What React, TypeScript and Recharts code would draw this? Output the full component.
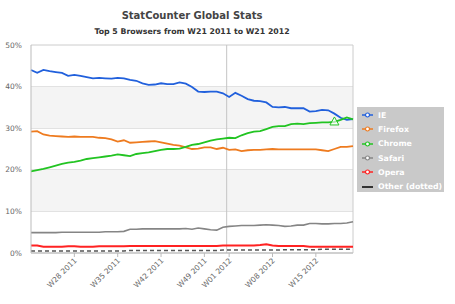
import React from "react";
import {
  LineChart,
  Line,
  XAxis,
  YAxis,
  CartesianGrid,
  ReferenceArea,
  ReferenceLine,
} from "recharts";

const weeks = [
  "W21 2011", "W22 2011", "W23 2011", "W24 2011", "W25 2011", "W26 2011", "W27 2011", "W28 2011",
  "W29 2011", "W30 2011", "W31 2011", "W32 2011", "W33 2011", "W34 2011", "W35 2011", "W36 2011",
  "W37 2011", "W38 2011", "W39 2011", "W40 2011", "W41 2011", "W42 2011", "W43 2011", "W44 2011",
  "W45 2011", "W46 2011", "W47 2011", "W48 2011", "W49 2011", "W50 2011", "W51 2011", "W52 2011",
  "W01 2012", "W02 2012", "W03 2012", "W04 2012", "W05 2012", "W06 2012", "W07 2012", "W08 2012",
  "W09 2012", "W10 2012", "W11 2012", "W12 2012", "W13 2012", "W14 2012", "W15 2012", "W16 2012",
  "W17 2012", "W18 2012", "W19 2012", "W20 2012", "W21 2012",
];

const ie = [
  44.0, 43.3, 44.0, 43.7, 43.5, 43.3, 42.6, 42.8, 42.6, 42.3, 42.0, 42.1, 42.0, 41.9, 42.1, 42.0,
  41.6, 41.4, 40.8, 40.4, 40.5, 40.8, 40.6, 40.6, 41.0, 40.7, 39.9, 38.8, 38.7, 38.8, 38.8, 38.4,
  37.5, 38.5, 37.8, 37.0, 36.6, 36.5, 36.2, 35.1, 35.0, 35.1, 34.8, 34.8, 34.8, 34.0, 34.1, 34.4,
  34.3, 33.5, 32.5, 32.0, 32.2,
];
const firefox = [
  29.2, 29.3, 28.5, 28.2, 28.1, 28.0, 27.9, 28.0, 27.9, 27.9, 27.9, 27.7, 27.6, 27.3, 26.8, 27.1,
  26.5, 26.6, 26.7, 26.8, 26.9, 26.6, 26.3, 26.0, 25.8, 25.4, 25.0, 25.1, 25.4, 25.4, 25.0, 25.3,
  24.8, 24.9, 24.5, 24.7, 24.8, 24.8, 24.9, 25.0, 24.9, 24.9, 24.9, 24.9, 24.9, 24.9, 24.9, 24.7,
  24.5, 25.0, 25.5, 25.5, 25.7,
];
const chrome = [
  19.6, 19.9, 20.2, 20.6, 21.0, 21.4, 21.7, 21.9, 22.2, 22.6, 22.8, 23.0, 23.2, 23.4, 23.7, 23.5,
  23.3, 23.8, 24.0, 24.2, 24.5, 24.8, 25.0, 25.0, 25.1, 25.5, 26.0, 26.2, 26.6, 27.0, 27.3, 27.5,
  27.7, 27.6, 28.3, 28.8, 29.2, 29.3, 29.8, 30.3, 30.5, 30.5, 31.0, 31.1, 31.0, 31.2, 31.3, 31.4,
  31.4, 31.5, 32.0, 32.6, 32.1,
];
const safari = [
  4.9, 4.9, 4.9, 4.9, 4.9, 5.0, 5.0, 5.0, 5.0, 5.0, 5.0, 5.0, 5.1, 5.1, 5.1, 5.2,
  5.7, 5.7, 5.8, 5.8, 5.8, 5.8, 5.8, 5.8, 5.8, 5.9, 5.7, 6.0, 5.8, 5.6, 5.5, 6.2,
  6.4, 6.5, 6.6, 6.6, 6.6, 6.7, 6.8, 6.7, 6.6, 6.4, 6.5, 6.7, 6.7, 7.1, 7.1, 7.0,
  7.0, 7.1, 7.1, 7.2, 7.5,
];
const opera = [
  1.8, 1.8, 1.5, 1.5, 1.5, 1.5, 1.6, 1.6, 1.5, 1.5, 1.5, 1.6, 1.6, 1.6, 1.6, 1.6,
  1.7, 1.7, 1.7, 1.7, 1.7, 1.7, 1.7, 1.7, 1.7, 1.7, 1.7, 1.7, 1.7, 1.7, 1.7, 1.8,
  1.8, 1.8, 1.8, 1.8, 1.8, 1.9, 2.1, 1.8, 1.7, 1.7, 1.7, 1.7, 1.7, 1.5, 1.5, 1.5,
  1.5, 1.5, 1.5, 1.5, 1.5,
];
const other = [
  0.5, 0.5, 0.5, 0.5, 0.5, 0.5, 0.5, 0.5, 0.5, 0.5, 0.5, 0.5, 0.5, 0.5, 0.5, 0.5,
  0.6, 0.6, 0.6, 0.6, 0.6, 0.6, 0.6, 0.6, 0.6, 0.6, 0.6, 0.6, 0.6, 0.6, 0.6, 0.7,
  0.7, 0.7, 0.7, 0.7, 0.7, 0.7, 0.7, 0.7, 0.7, 0.8, 0.8, 0.8, 0.8, 0.8, 0.8, 0.9,
  0.9, 0.9, 0.9, 0.9, 0.9,
];

const tickLabels = ["W28 2011", "W35 2011", "W42 2011", "W49 2011", "W01 2012", "W08 2012", "W15 2012"];
const yTicks = [0, 10, 20, 30, 40, 50];

const series = [
  { key: "ie", name: "IE", color: "#2160dc" },
  { key: "firefox", name: "Firefox", color: "#ee7b1f" },
  { key: "chrome", name: "Chrome", color: "#22c422" },
  { key: "safari", name: "Safari", color: "#858585" },
  { key: "opera", name: "Opera", color: "#ff2222" },
];

const data = weeks.map((week, idx) => ({
  idx,
  week,
  ie: ie[idx],
  firefox: firefox[idx],
  chrome: chrome[idx],
  safari: safari[idx],
  opera: opera[idx],
  other: other[idx],
}));

const font = "'DejaVu Sans', Verdana, sans-serif";

// rotated week labels under the axis
const WeekTick = (props: any) => {
  const { x, y, payload } = props;
  return (
    <text
      transform={`translate(${x + 3},${y + 2}) rotate(-45)`}
      textAnchor="end"
      fontSize={7.5}
      fill="#666"
      fontFamily={font}
    >
      {weeks[payload.value]}
    </text>
  );
};

const LegendBox = () => (
  <div
    style={{
      position: "absolute",
      left: 357,
      top: 107,
      background: "#c9c9c9",
      width: 87,
      height: 85,
      boxSizing: "border-box",
      padding: "1px 0 0 5px",
      fontFamily: font,
      fontSize: 7.8,
      fontWeight: "bold",
      color: "#fff",
    }}
  >
    {series.map((s) => (
      <div key={s.key} style={{ display: "flex", alignItems: "center", height: 14.3 }}>
        <svg width={12} height={8} style={{ marginRight: 4 }}>
          <line x1={0} y1={4} x2={11} y2={4} stroke={s.color} strokeWidth={1.5} />
          <circle cx={5.5} cy={4} r={2} fill="#fff" stroke={s.color} strokeWidth={1.2} />
        </svg>
        {s.name}
      </div>
    ))}
    <div style={{ display: "flex", alignItems: "center", height: 14.3 }}>
      <svg width={12} height={8} style={{ marginRight: 4 }}>
        <line x1={0} y1={4} x2={11} y2={4} stroke="#333" strokeWidth={2} />
      </svg>
      Other (dotted)
    </div>
  </div>
);

// the one hover marker on Chrome near the IE crossing
const chromeDot = (props: any) => {
  const { cx, cy, index } = props;
  if (index !== 49) return <g key={`cd-${index}`} />;
  return (
    <path
      key={`cd-${index}`}
      d={`M${cx},${cy - 5} L${cx + 4.5},${cy + 3} L${cx - 4.5},${cy + 3} Z`}
      fill="#fff"
      fillOpacity={0.6}
      stroke="#22c422"
      strokeWidth={1}
    />
  );
};

export default function App() {
  const ticks = tickLabels.map((l) => weeks.indexOf(l));
  return (
    <div style={{ position: "absolute", left: 0, top: 0, width: 455, height: 304, background: "#fff" }}>
      <div
        style={{
          position: "absolute",
          left: 0,
          width: 384,
          top: 10,
          textAlign: "center",
          fontFamily: font,
          fontWeight: "bold",
          fontSize: 10,
          color: "#444",
        }}
      >
        StatCounter Global Stats
      </div>
      <div
        style={{
          position: "absolute",
          left: 0,
          width: 384,
          top: 27,
          textAlign: "center",
          fontFamily: font,
          fontWeight: "bold",
          fontSize: 7.8,
          color: "#333",
        }}
      >
        Top 5 Browsers from W21 2011 to W21 2012
      </div>
      <LineChart
        width={455}
        height={304}
        data={data}
        margin={{ top: 45, right: 102, left: 0, bottom: 0 }}
      >
        <ReferenceArea y1={10} y2={20} fill="#f4f4f4" fillOpacity={1} stroke="none" />
        <ReferenceArea y1={30} y2={40} fill="#f4f4f4" fillOpacity={1} stroke="none" />
        <CartesianGrid vertical={false} stroke="#cccccc" />
        <ReferenceLine x={31.6} stroke="#c4c4c4" />
        <ReferenceLine x={52} stroke="#cccccc" />
        <XAxis
          type="number"
          dataKey="idx"
          domain={[0, 52]}
          ticks={ticks}
          interval={0}
          height={51}
          tick={<WeekTick />}
          tickSize={4}
          tickLine={{ stroke: "#bbb" }}
          axisLine={{ stroke: "#bbb" }}
        />
        <YAxis
          domain={[0, 50]}
          ticks={yTicks}
          width={31}
          tickFormatter={(v) => `${v}%`}
          tickLine={false}
          axisLine={{ stroke: "#bbb" }}
          tick={{ fontSize: 7.5, fill: "#666", fontFamily: font }}
          tickMargin={3}
        />
        <Line
          dataKey="other"
          stroke="#555"
          strokeWidth={1.5}
          strokeDasharray="4 3"
          dot={false}
          isAnimationActive={false}
        />
        <Line dataKey="opera" stroke="#ff2222" strokeWidth={2} dot={false} isAnimationActive={false} />
        <Line dataKey="safari" stroke="#858585" strokeWidth={1.6} dot={false} isAnimationActive={false} />
        <Line dataKey="firefox" stroke="#ee7b1f" strokeWidth={1.8} dot={false} isAnimationActive={false} />
        <Line dataKey="ie" stroke="#2160dc" strokeWidth={1.8} dot={false} isAnimationActive={false} />
        <Line dataKey="chrome" stroke="#22c422" strokeWidth={1.8} dot={chromeDot} isAnimationActive={false} />
      </LineChart>
      <LegendBox />
    </div>
  );
}
